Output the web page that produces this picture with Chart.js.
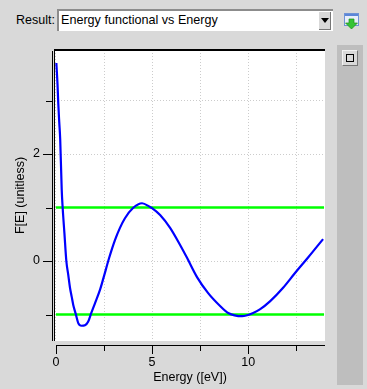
<!DOCTYPE html>
<html>
<head>
<meta charset="utf-8">
<title>Energy functional vs Energy</title>
<script src="https://cdn.jsdelivr.net/npm/chart.js@4"></script>
<style>
    html, body { margin: 0; padding: 0; background: #d9d9d9; overflow: hidden; }
    body { position: relative; width: 367px; height: 389px; font-family: "Liberation Sans", sans-serif; color: #000; }
    #grafica { position: absolute; left: 0; top: 0; }
    .lbl { position: absolute; left: 16px; top: 12px; font-size: 12.5px; line-height: 16px; }
    .combo { position: absolute; left: 57px; top: 9px; width: 276px; height: 22px; box-sizing: border-box; background: #fff;
             border-top: 2px solid #8c8c8c; border-left: 2px solid #8c8c8c; font-size: 12.6px; line-height: 18px; padding-left: 2px; }
    .flecha { position: absolute; right: 2px; top: 1px; width: 11px; height: 17px; background: #d9d9d9; border-right: 1px solid #777; border-bottom: 1px solid #777; }
    .flecha i { position: absolute; left: 2px; top: 6px; border-left: 4px solid transparent; border-right: 4px solid transparent; border-top: 5px solid #000; }
    .icono { position: absolute; left: 344px; top: 13px; }
    .panel { position: absolute; left: 337px; top: 45px; width: 26px; height: 340px; background: #bebebe; }
    .boton { position: absolute; left: 5px; top: 5px; width: 16px; height: 16px; box-sizing: border-box; background: #d9d9d9;
             border-top: 1px solid #f2f2f2; border-left: 1px solid #f2f2f2; border-right: 1px solid #777; border-bottom: 1px solid #777; }
    .boton i { position: absolute; left: 3px; top: 3px; width: 8px; height: 8px; box-sizing: border-box; border: 1px solid #000; }
</style>
</head>
<body>
<div class="lbl">Result:</div>
<div class="combo">Energy functional vs Energy<div class="flecha"><i></i></div></div>
<svg class="icono" width="16" height="17" viewBox="0 0 16 17">
    <rect x="0.5" y="0.5" width="14" height="12" fill="#e8eefa" stroke="#6f93d6"/>
    <rect x="1" y="1" width="13" height="2" fill="#5b86d8"/>
    <path d="M5 6h5v4h3.5l-6 6l-6-6h3.5z" fill="#35c435" stroke="#1d8f1d" stroke-width="0.7"/>
</svg>
<div class="panel"><div class="boton"><i></i></div></div>
<canvas id="grafica" width="367" height="389"></canvas>
<script>
// Curva F[E]
const energia = [0.02, 0.08, 0.12, 0.17, 0.22, 0.30, 0.35, 0.44, 0.54, 0.64, 0.73, 0.82, 0.90, 1.03, 1.16, 1.33, 1.51, 1.68, 1.82,
    2.03, 2.29, 2.47, 2.77, 3.07, 3.33, 3.59, 4.01, 4.48, 4.90, 5.00, 5.42, 5.94, 6.46, 6.82, 7.34, 7.92, 8.54, 8.96,
    9.69, 10.26, 10.63, 11.15, 11.82, 12.45, 13.13, 13.90];
const funcional = [3.70, 3.31, 2.95, 2.60, 2.28, 1.33, 0.99, 0.52, 0.00, -0.26, -0.50, -0.67, -0.82, -0.99, -1.16, -1.21, -1.20, -1.13, -0.99,
    -0.79, -0.54, -0.32, 0.06, 0.39, 0.62, 0.80, 0.99, 1.08, 1.01, 0.99, 0.86, 0.62, 0.30, 0.06, -0.30, -0.60, -0.84, -0.97,
    -1.03, -0.97, -0.90, -0.75, -0.50, -0.22, 0.07, 0.41];

// Limites en verde
const limiteX = [0, 13.95];
const limiteSup = [1, 1];
const limiteInf = [-1, -1];

const xTicks = [0, 2.5, 5, 7.5, 10, 12.5];
const xLabels = [0, 5, 10];
const yTicks = [-1, 0, 1, 2, 3];
const yLabels = [0, 2];

const fuente = { family: '"Liberation Sans", sans-serif', size: 12.5 };

function puntos(xs, ys) {
    return xs.map((x, i) => ({ x: x, y: ys[i] }));
}

// Fondo blanco del area de la grafica
const fondo = {
    id: 'fondo',
    beforeDraw(chart) {
        const a = chart.chartArea;
        chart.ctx.fillStyle = '#fff';
        chart.ctx.fillRect(a.left, a.top, a.right - a.left, a.bottom - a.top);
    }
};

// Ejes separados del area, con marcas mayores y menores
const ejes = {
    id: 'ejes',
    afterDraw(chart) {
        const ctx = chart.ctx;
        const a = chart.chartArea;
        const sx = chart.scales.x;
        const sy = chart.scales.y;
        ctx.save();
        ctx.fillStyle = '#000';
        ctx.fillRect(a.left - 1, a.top - 1, a.right - a.left + 1, 2);
        ctx.fillRect(a.left - 1, a.top - 1, 1, a.bottom - a.top + 1);
        ctx.fillRect(a.left - 3, a.top + 1, 1, a.bottom - a.top - 1);
        ctx.fillRect(a.left + 1, a.bottom + 4, a.right - a.left - 1, 1);
        xTicks.forEach(v => {
            const px = Math.round(sx.getPixelForValue(v));
            ctx.fillRect(px, a.bottom + 4, 1, xLabels.includes(v) ? 9 : 6);
        });
        yTicks.forEach(v => {
            const py = Math.round(sy.getPixelForValue(v));
            const largo = yLabels.includes(v) ? 9 : 6;
            ctx.fillRect(a.left - 3 - largo, py, largo, 1);
        });
        ctx.restore();
    }
};

new Chart(document.getElementById('grafica').getContext('2d'), {
    type: 'line',
    data: {
        datasets: [
            { data: puntos(energia, funcional), borderColor: '#0000ff', borderWidth: 2.2, pointRadius: 0, cubicInterpolationMode: 'monotone', order: 1 },
            { data: puntos(limiteX, limiteSup), borderColor: '#00ff00', borderWidth: 2.5, pointRadius: 0, order: 2 },
            { data: puntos(limiteX, limiteInf), borderColor: '#00ff00', borderWidth: 2.5, pointRadius: 0, order: 2 }
        ]
    },
    options: {
        responsive: false,
        animation: false,
        layout: { padding: { left: 0, top: 50, right: 42, bottom: 0 } },
        plugins: { legend: { display: false }, tooltip: { enabled: false } },
        scales: {
            x: {
                type: 'linear',
                min: -0.05,
                max: 14.0,
                afterFit(scale) { scale.height = 48; },
                afterBuildTicks(scale) { scale.ticks = xTicks.map(v => ({ value: v })); },
                grid: { color: '#cccccc', drawTicks: false },
                border: { display: false, dash: [1, 2] },
                ticks: {
                    color: '#000', font: fuente, padding: 14, maxRotation: 0, autoSkip: false,
                    callback: v => xLabels.includes(v) ? String(v) : ''
                },
                title: { display: true, text: 'Energy ([eV])', color: '#000', font: fuente, padding: { top: 0, bottom: 4 } }
            },
            y: {
                type: 'linear',
                min: -1.495,
                max: 3.944,
                afterFit(scale) { scale.width = 55; },
                afterBuildTicks(scale) { scale.ticks = yTicks.map(v => ({ value: v })); },
                grid: { color: '#cccccc', drawTicks: false },
                border: { display: false, dash: [1, 2] },
                ticks: {
                    color: '#000', font: fuente, padding: 15, autoSkip: false,
                    callback: v => yLabels.includes(v) ? String(v) : ''
                },
                title: { display: true, text: 'F[E] (unitless)', color: '#000', font: fuente, padding: { top: 13, bottom: 0 } }
            }
        }
    },
    plugins: [fondo, ejes]
});
</script>
</body>
</html>
